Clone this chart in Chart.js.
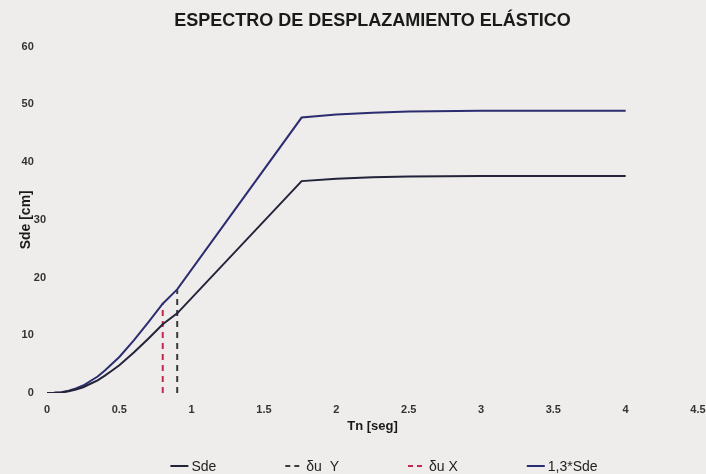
<!DOCTYPE html>
<html>
<head>
<meta charset="utf-8">
<title>Espectro de desplazamiento elástico</title>
<script src="https://cdn.jsdelivr.net/npm/chart.js@4.4.1/dist/chart.umd.min.js"></script>
<style>
  html, body { margin: 0; padding: 0; background: #eeedeb; }
  #wrap { width: 706px; height: 474px; position: relative; }
</style>
</head>
<body>
<div id="wrap"><canvas id="chart"></canvas></div>
<script>
// Periodo Tn [seg] y espectro elástico de desplazamiento Sde [cm]
const periods = [0, 0.05, 0.1, 0.15, 0.2, 0.25, 0.3, 0.35, 0.4, 0.45, 0.5, 0.6, 0.7, 0.8, 0.9, 1.76, 2.0, 2.25, 2.5, 3.0, 3.5, 4.0];
const sde     = [0, 0.03, 0.1, 0.3, 0.6, 1.0, 1.6, 2.2, 3.0, 3.9, 4.8, 7.0, 9.4, 11.9, 13.8, 36.7, 37.1, 37.35, 37.5, 37.6, 37.6, 37.6];

// Espectro amplificado: 1,3*Sde
const sdeFactor = 1.3;
const sdeAmplified = sde.map(v => v * sdeFactor);

// Desplazamientos últimos por dirección (periodo del edificio)
const duYPeriod = [0.9, 0.9];
const duYValues = [0, 17.9];
const duXPeriod = [0.8, 0.8];
const duXValues = [0, 15.6];

// Marcas de los ejes
const xTicks = [0, 0.5, 1, 1.5, 2, 2.5, 3, 3.5, 4, 4.5];
const yTicks = [0, 10, 20, 30, 40, 50, 60];
// Etiquetas del eje Y que quedan junto al título del eje (se dibujan más a la derecha)
const yTicksBesideTitle = [20, 30];

const toPoints = (xs, ys) => xs.map((x, i) => ({ x, y: ys[i] }));

const FONT = "'Liberation Sans Narrow', 'Arial Narrow', 'Liberation Sans', Arial, sans-serif";

// Leyenda inferior dibujada en el lienzo, con las muestras de línea de cada serie
const bottomLegend = {
  id: 'bottomLegend',
  afterDraw(chart, args, opts) {
    const ctx = chart.ctx;
    ctx.save();
    ctx.font = `${opts.size}px ${FONT}`;
    const sample = 18, gapText = 3, gapItem = 69;
    const items = chart.data.datasets.map(ds => ({
      label: ds.label,
      color: ds.borderColor,
      dashed: !!(ds.borderDash && ds.borderDash.length),
      w: ctx.measureText(ds.label).width
    }));
    const total = items.reduce((s, it) => s + sample + gapText + it.w, 0) + gapItem * (items.length - 1);
    let x = opts.centerX - total / 2;
    const y = opts.y;
    items.forEach(it => {
      ctx.strokeStyle = it.color;
      ctx.lineWidth = 2;
      ctx.setLineDash(it.dashed ? [5, 4] : []);
      ctx.beginPath();
      ctx.moveTo(x, y);
      ctx.lineTo(x + sample, y);
      ctx.stroke();
      ctx.setLineDash([]);
      ctx.fillStyle = '#222';
      ctx.textBaseline = 'middle';
      ctx.textAlign = 'left';
      ctx.fillText(it.label, x + sample + gapText, y + 1);
      x += sample + gapText + it.w + gapItem;
    });
    ctx.restore();
  }
};

new Chart(document.getElementById('chart'), {
  type: 'scatter',
  data: {
    datasets: [
      {
        label: 'Sde',
        data: toPoints(periods, sde),
        showLine: true,
        borderColor: '#23233a',
        borderWidth: 2,
        pointRadius: 0,
        tension: 0,
        order: 1
      },
      {
        label: 'δu  Y',
        data: toPoints(duYPeriod, duYValues),
        showLine: true,
        borderColor: '#3a3a3a',
        borderDash: [6, 5],
        borderWidth: 2,
        pointRadius: 0,
        order: 2
      },
      {
        label: 'δu X',
        data: toPoints(duXPeriod, duXValues),
        showLine: true,
        borderColor: '#c3284f',
        borderDash: [6, 5],
        borderWidth: 2,
        pointRadius: 0,
        order: 2
      },
      {
        label: '1,3*Sde',
        data: toPoints(periods, sdeAmplified),
        showLine: true,
        borderColor: '#2c2d70',
        borderWidth: 2,
        pointRadius: 0,
        tension: 0,
        order: 1
      }
    ]
  },
  options: {
    responsive: true,
    maintainAspectRatio: false,
    animation: false,
    layout: { padding: { top: 0, left: 0, right: 8, bottom: 31 } },
    plugins: {
      legend: { display: false },
      tooltip: { enabled: false },
      title: {
        display: true,
        fullSize: false,
        text: 'ESPECTRO DE DESPLAZAMIENTO ELÁSTICO',
        color: '#1a1a1a',
        font: { family: FONT, size: 18, weight: 'bold' },
        padding: { top: 10, bottom: 15 }
      },
      bottomLegend: { size: 14, centerX: 384, y: 466 }
    },
    scales: {
      x: {
        type: 'linear',
        min: 0,
        max: 4.5,
        afterBuildTicks: s => { s.ticks = xTicks.map(v => ({ value: v })); },
        afterFit: s => { s.height = 50; s.paddingRight = 0; },
        grid: { display: false, drawTicks: false },
        border: { display: false },
        ticks: {
          padding: 10,
          color: '#333',
          font: { family: FONT, size: 11, weight: 'bold' },
          callback: v => String(v)
        },
        title: {
          display: true,
          text: 'Tn [seg]',
          color: '#1a1a1a',
          font: { family: FONT, size: 13, weight: 'bold' },
          padding: { top: 0, bottom: 9 }
        }
      },
      y: {
        type: 'linear',
        min: 0,
        max: 60,
        afterBuildTicks: s => { s.ticks = yTicks.map(v => ({ value: v })); },
        afterFit: s => { s.width = 47; },
        grid: { display: false, drawTicks: false },
        border: { display: false },
        ticks: {
          padding: 1,
          color: '#333',
          font: { family: FONT, size: 11, weight: 'bold' },
          callback: v => yTicksBesideTitle.includes(v) ? String(v) : String(v) + '\u2007\u2007'
        },
        title: {
          display: true,
          text: 'Sde [cm]',
          color: '#1a1a1a',
          font: { family: FONT, size: 14, weight: 'bold' },
          padding: { top: 18, bottom: 0 }
        }
      }
    }
  },
  plugins: [bottomLegend]
});
</script>
</body>
</html>
